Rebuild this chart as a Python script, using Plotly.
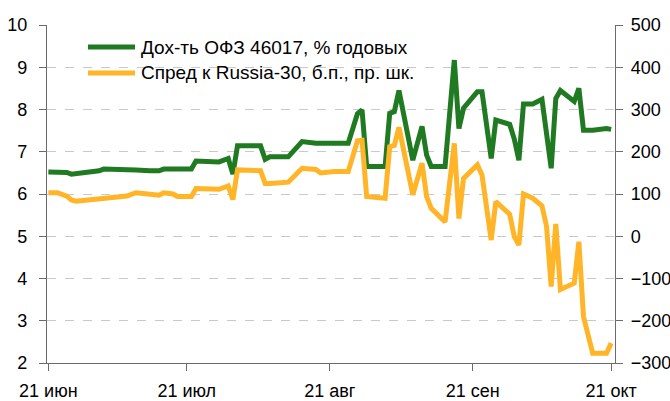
import plotly.graph_objects as go

# ---- data ----
dates = [
    "2011-06-21", "2011-06-23", "2011-06-25", "2011-06-26", "2011-06-27", "2011-06-30",
    "2011-07-02", "2011-07-03", "2011-07-05", "2011-07-08", "2011-07-10", "2011-07-13",
    "2011-07-15", "2011-07-16", "2011-07-18", "2011-07-19", "2011-07-22", "2011-07-23",
    "2011-07-28", "2011-07-30", "2011-07-31", "2011-08-01", "2011-08-05", "2011-08-06",
    "2011-08-07", "2011-08-08", "2011-08-12", "2011-08-15", "2011-08-18", "2011-08-19",
    "2011-08-22", "2011-08-25", "2011-08-27", "2011-08-28", "2011-08-29", "2011-09-02",
    "2011-09-03", "2011-09-04", "2011-09-05", "2011-09-08", "2011-09-10", "2011-09-11",
    "2011-09-12", "2011-09-15", "2011-09-17", "2011-09-18", "2011-09-19", "2011-09-22",
    "2011-09-23", "2011-09-25", "2011-09-26", "2011-09-29", "2011-09-30", "2011-10-01",
    "2011-10-02", "2011-10-04", "2011-10-06", "2011-10-07", "2011-10-08", "2011-10-09",
    "2011-10-10", "2011-10-13", "2011-10-14", "2011-10-15", "2011-10-17", "2011-10-20",
    "2011-10-21",
]
ofz_yield = [
    6.52, 6.52, 6.51, 6.47, 6.48, 6.51,
    6.55, 6.59, 6.59, 6.59, 6.57, 6.55,
    6.55, 6.59, 6.59, 6.59, 6.59, 6.78,
    6.76, 6.84, 6.47, 7.14, 7.14, 7.14,
    6.82, 6.88, 6.88, 7.24, 7.20, 7.20,
    7.20, 7.20, 7.90, 7.99, 6.65, 6.65,
    7.91, 7.95, 8.45, 6.80, 7.60, 6.92,
    6.65, 6.65, 9.17, 7.55, 8.03, 8.42,
    8.42, 6.84, 7.75, 7.65, 7.30, 6.80,
    8.13, 8.13, 8.24, 7.35, 6.61, 8.26,
    8.45, 8.19, 8.50, 7.51, 7.51, 7.55,
    7.53,
]
spread_bp = [
    103, 103, 95, 86, 83, 86,
    90, 91, 92, 95, 103, 100,
    97, 103, 100, 94, 94, 113,
    111, 119, 87, 157, 157, 155,
    125, 125, 128, 161, 158, 150,
    153, 153, 226, 227, 94, 90,
    212, 215, 258, 98, 173, 94,
    66, 34, 220, 42, 137, 169,
    145, -9, 82, 52, -1, -21,
    100, 90, 72, 23, -119, 29,
    -126, -111, -13, -190, -277, -277,
    -253,
]
tick_dates = ["2011-06-21", "2011-07-21", "2011-08-21", "2011-09-21", "2011-10-21"]
tick_labels = ["21 июн", "21 июл", "21 авг", "21 сен", "21 окт"]
series_names = ["Дох-ть ОФЗ 46017, % годовых", "Спред к Russia-30, б.п., пр. шк."]

GREEN = "#1f7a22"
ORANGE = "#ffb527"
FONT = "Liberation Sans, Arial, sans-serif"
AXIS = "#6b6b6b"
GRID = "#c9c9c9"

W, H = 670, 401
# plot area in window pixels: left 47, right 615, top 25, bottom 363
L, R, T, B = 47, 670 - 615, 25, 401 - 363
pw, ph = W - L - R, H - T - B


def px_x(p):  # window pixel -> paper x
    return (p - L) / pw


def px_y(p):  # window pixel -> paper y
    return (H - B - p) / ph


fig = go.Figure()
fig.add_trace(go.Scatter(x=dates, y=spread_bp, yaxis="y2", mode="lines",
                         line=dict(color=ORANGE, width=5), name=series_names[1],
                         showlegend=False))
fig.add_trace(go.Scatter(x=dates, y=ofz_yield, mode="lines",
                         line=dict(color=GREEN, width=5), name=series_names[0],
                         showlegend=False))

# manual legend
shapes = [
    dict(type="rect", xref="paper", yref="paper", x0=px_x(57), x1=px_x(437),
         y0=px_y(88), y1=px_y(35), fillcolor="white", line=dict(width=0), layer="between"),
]
annotations = []
for yy, col, name in [(47, GREEN, series_names[0]), (73, ORANGE, series_names[1])]:
    shapes.append(dict(type="line", xref="paper", yref="paper", x0=px_x(88), x1=px_x(135),
                       y0=px_y(yy), y1=px_y(yy), line=dict(color=col, width=5)))
    annotations.append(dict(xref="paper", yref="paper", x=px_x(139), y=px_y(yy),
                            text=name, showarrow=False, xanchor="left", yanchor="middle",
                            font=dict(size=19, color="#000000", family=FONT)))

fig.update_layout(
    width=W, height=H,
    margin=dict(l=L, r=R, t=T, b=B, pad=0, autoexpand=False),
    paper_bgcolor="white", plot_bgcolor="white",
    font=dict(family=FONT, size=18, color="#000000"),
    shapes=shapes, annotations=annotations,
    hovermode=False,
    xaxis=dict(
        type="date", range=["2011-06-20 17:00", "2011-10-21 20:00"], automargin=False,
        tickmode="array", tickvals=tick_dates, ticktext=tick_labels,
        ticks="outside", ticklen=7, tickcolor=AXIS, tickwidth=1.3,
        showline=True, linecolor=AXIS, linewidth=1.3, showgrid=False, zeroline=False,
        ticklabelstandoff=4,
    ),
    yaxis=dict(
        range=[2, 10], dtick=1, tick0=2, automargin=False,
        ticks="outside", ticklen=7, tickcolor=AXIS, tickwidth=1.3,
        showline=True, linecolor=AXIS, linewidth=1.3,
        showgrid=True, gridcolor=GRID, griddash="dash", gridwidth=1.3, zeroline=False,
        ticklabelstandoff=8,
    ),
    yaxis2=dict(
        range=[-300, 500], dtick=100, tick0=-300, overlaying="y", side="right",
        automargin=False,
        ticks="outside", ticklen=7, tickcolor=AXIS, tickwidth=1.3,
        showline=True, linecolor=AXIS, linewidth=1.3, showgrid=False, zeroline=False,
        ticklabelstandoff=4,
    ),
)

# remove the default 8px body margin so the 670x401 figure fills the window exactly
fig.write_html("out.html",
               config={"displayModeBar": False},
               post_script="document.body.style.margin='0';document.body.style.overflow='hidden';")
